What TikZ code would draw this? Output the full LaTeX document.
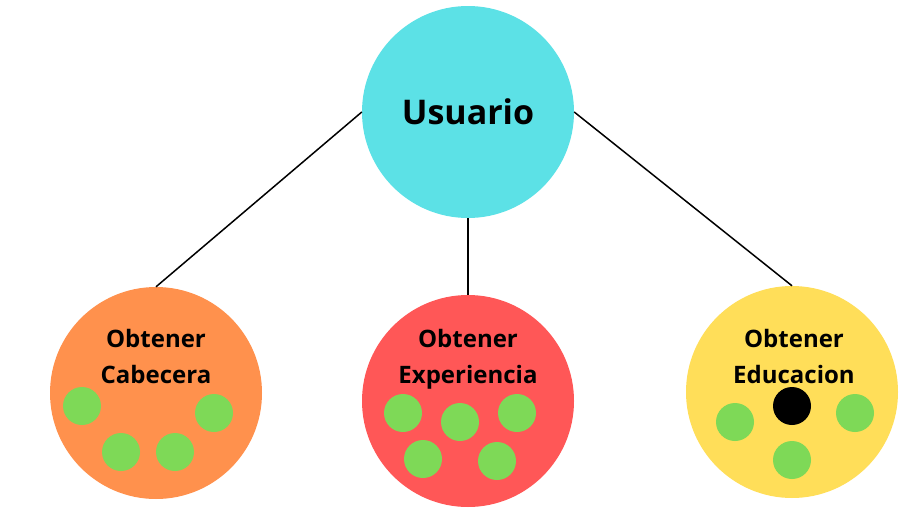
\documentclass[tikz,border=0pt]{standalone}
\usepackage{fontspec}
\setmainfont{Open Sans}
\usetikzlibrary{positioning}
\definecolor{usrcyan}{HTML}{5CE1E6}
\definecolor{caborange}{HTML}{FF914D}
\definecolor{expred}{HTML}{FF5757}
\definecolor{eduyellow}{HTML}{FFDE59}
\definecolor{dotgreen}{HTML}{7ED957}
\tikzset{
  bubble/.style={circle,minimum size=212pt,inner sep=0pt},
  spot/.style={circle,minimum size=38pt,inner sep=0pt,fill=dotgreen},
  title/.style={font=\bfseries\fontsize{24}{36}\selectfont,align=center,inner sep=0pt},
  link/.style={draw=black,line width=1.5pt}
}

\begin{document}
\begin{tikzpicture}[x=1pt,y=-1pt]
    \useasboundingbox[fill=white] (0,0) rectangle (921,514);

    % the four bubbles
    \node[bubble,fill=usrcyan]   (usuario)     at (468,112) {};
    \node[bubble,fill=caborange] (cabecera)    at (156,393) {};
    \node[bubble,fill=expred]    (experiencia) at (468,401) {};
    \node[bubble,fill=eduyellow] (educacion)   at (792,392) {};

    \draw[link] (usuario.west)  -- (cabecera.north);
    \draw[link] (usuario.south) -- (experiencia.north);
    \draw[link] (usuario.east)  -- (educacion.north);

    \node[font=\bfseries\fontsize{34}{40}\selectfont] (usuario-t) at (usuario.center) {Usuario};
    \node[title] (cabecera-t)    at (156,356) {Obtener\\Cabecera};
    \node[title] (experiencia-t) at (468,359) {Obtener\\Experiencia};
    \node[title] (educacion-t)   at (794,356) {Obtener\\Educacion};

    % dots in each bubble
    \foreach \n/\x/\y in {c1/82/406, c2/214/413, c3/121/452, c4/175/452,
                          e1/403/413, e2/460/422, e3/517/413, e4/423/459, e5/497/461,
                          d1/735/422, d2/855/413, d3/792/460}{
      \node[spot] (spot-\n) at (\x,\y) {};
    }
    \node[spot,fill=black] (spot-d0) at (792,406) {};
\end{tikzpicture}
\end{document}
